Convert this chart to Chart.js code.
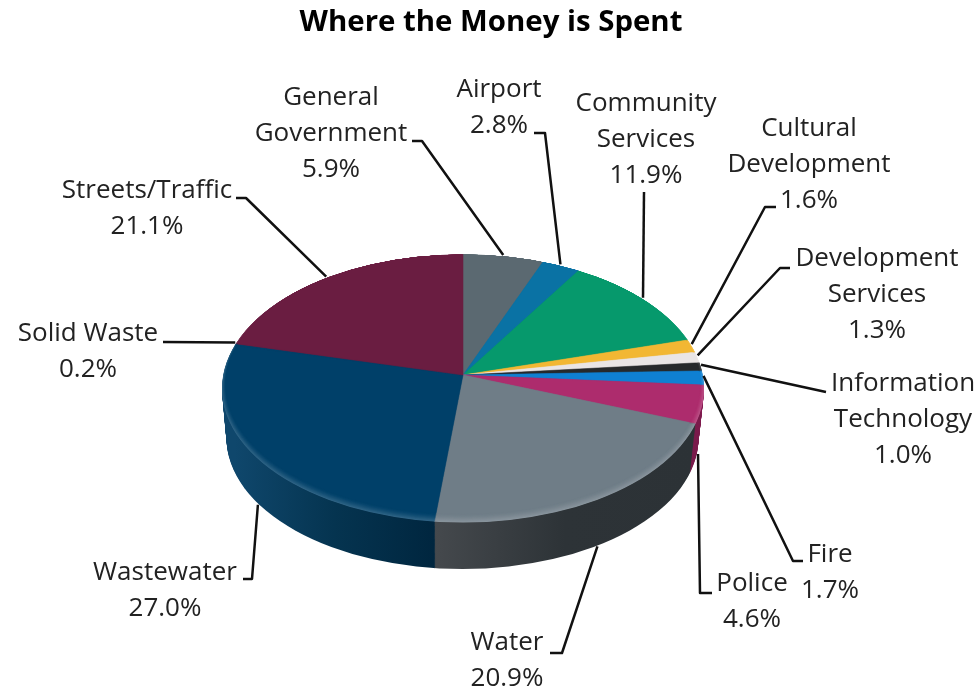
<!DOCTYPE html>
<html><head><meta charset="utf-8">
<style>html,body{margin:0;padding:0;background:#fff}canvas{display:block}</style>
<script src="https://cdn.jsdelivr.net/npm/chart.js@4"></script></head>
<body><canvas id="c" width="979" height="690" style="width:979px;height:690px"></canvas>
<script>
const chartTitle = 'Where the Money is Spent';
const categories = ['General Government','Airport','Community Services','Cultural Development','Development Services','Information Technology','Fire','Police','Water','Wastewater','Solid Waste','Streets/Traffic'];
const values = [5.9,2.8,11.9,1.6,1.3,1.0,1.7,4.6,20.9,27.0,0.2,21.1];
const topColors = ['#5b6971','#0a72a4','#06996c','#f2b733','#e9e5e5','#26292b','#0f80d2','#ad2c6d','#6f7d87','#004069','#004069','#6a1d41'];
const wallColors = [
 ['#3e474d','#3e474d','#3e474d'],['#064f72','#064f72','#064f72'],['#046a4a','#046a4a','#046a4a'],
 ['#a67d22','#a67d22','#a67d22'],['#a09d9d','#a09d9d','#a09d9d'],['#191b1d','#191b1d','#191b1d'],
 ['#0a5890','#0a5890','#0a5890'],['#8a1c55','#7a1a4b','#7a1a4b'],
 ['#2c3236','#2d3337','#45494d'],['#00263f','#053450','#0f476c'],['#23506a','#23506a','#23506a'],['#4a142d','#4a142d','#4a142d']];

/* label layout: wrapped lines, text centre x, first line y */
const labelLines = [['General','Government'],['Airport'],['Community','Services'],['Cultural','Development'],['Development','Services'],['Information','Technology'],['Fire'],['Police'],['Water'],['Wastewater'],['Solid Waste'],['Streets/Traffic']];
const labelX = [331,499,646,809,877,903,830,752,507,165,88,147];
const labelY = [96,88,102,127,257,382,553,582,641,571,332,189];
/* leader start + elbow; end comes from the slice's mid angle */
const leaderPath = [[[412,141],[422,141]],[[534,133],[545,133]],[[644,192]],[[776,207],[765,207]],[[790,268],[780,268]],[[826,392]],[[803,561],[793,561]],[[712,593],[700,593]],[[550,653],[562,653]],[[243,579],[252,579]],[[163,342]],[[236,198],[246,198]]];
const leaderOnWall = [0,0,0,0,0,0,0,1,1,1,0,0];

/* view of the pie: apex, outline ellipse, wall depth, perspective strength */
const G = {cx:463, cy:375, ellCy:388.5, rx:241, ry:134, depth:50, botCx:462.5, botRx:236, botRy:131, persp:0.101, Ax:240, A:132, botA:130, SX:275, SY:170};

function mix(hex, t, target){
  const n=parseInt(hex.slice(1),16), r=n>>16, g=(n>>8)&255, b=n&255;
  const f=c=>Math.round(c+(target-c)*t);
  return `rgb(${f(r)},${f(g)},${f(b)})`;
}
/* chart angle -> drawing angle, so radial edges follow the perspective */
function warp(a){
  const th=a+Math.PI/2;
  if(th<1e-6) return a;
  let p=Math.atan2(G.Ax*Math.sin(th)/G.SX, G.A*Math.cos(th)/G.SY);
  if(p<0) p+=2*Math.PI;
  return p-Math.PI/2;
}
function rimX(a){
  const th=a+Math.PI/2;
  return G.Ax*Math.sin(th)/(1+G.persp*Math.cos(th));
}
function drawLayer(ctx, meta, ell, apexX, apexY, fill){
  ctx.save();
  ctx.beginPath(); ctx.ellipse(ell.x,ell.y,ell.rx,ell.ry,0,0,Math.PI*2); ctx.clip();
  ctx.translate(apexX,apexY);
  meta.data.forEach((arc,i)=>{
    const R=arc.outerRadius;
    const a0=arc.startAngle,a1=arc.endAngle,cf=arc.circumference;
    const color=fill(i,arc,R);
    arc.startAngle=warp(a0); arc.endAngle=warp(a1); arc.circumference=arc.endAngle-arc.startAngle;
    ctx.save();
    ctx.scale(G.SX/R,G.SY/R);
    ctx.translate(-arc.x,-arc.y);
    const orig=arc.options;
    arc.options=Object.create(orig,{backgroundColor:{value:color},borderColor:{value:color},borderWidth:{value:0.8}});
    arc.draw(ctx);
    arc.options=orig;
    ctx.restore();
    arc.startAngle=a0; arc.endAngle=a1; arc.circumference=cf;
  });
  ctx.restore();
}
const pie3d = {
  id:'pie3d',
  beforeDatasetsDraw(chart){
    const ctx=chart.ctx, meta=chart.getDatasetMeta(0);
    const n=G.depth;
    for(let k=n;k>=1;k--){
      const t=k/n, cx=G.cx+(G.botCx-G.cx)*t;
      const ell={x:cx,y:G.ellCy+49.5*t,rx:G.rx+(G.botRx-G.rx)*t,ry:G.ry+(G.botRy-G.ry)*t};
      drawLayer(ctx,meta,ell,cx,G.cy+G.depth*t,(i,arc,R)=>{
        const x0=arc.x+rimX(arc.startAngle)*R/G.SX, x1=arc.x+rimX(arc.endAngle)*R/G.SX;
        const g=ctx.createLinearGradient(x0,0,Math.abs(x1-x0)<1?x0+1:x1,0);
        g.addColorStop(0,wallColors[i][0]);g.addColorStop(.5,wallColors[i][1]);g.addColorStop(1,wallColors[i][2]);
        return g;
      });
    }
    /* top face: bevel crescent towards the front rim, fading inward */
    const steps=16;
    for(let k=0;k<=steps;k++){
      const u=k/steps, d=4.2*u, a=0.19*Math.pow(1-u,1.5);
      const ell={x:G.cx,y:G.ellCy-d,rx:G.rx-4*u,ry:G.ry-d};
      drawLayer(ctx,meta,ell,G.cx,G.cy,i=>mix(topColors[i],a,255));
    }
    return false;
  },
  afterDraw(chart){
    const ctx=chart.ctx, meta=chart.getDatasetMeta(0);
    ctx.save();
    ctx.strokeStyle='#111'; ctx.lineWidth=2.5; ctx.lineJoin='round';
    meta.data.forEach((arc,i)=>{
      const th=(arc.startAngle+arc.endAngle)/2+Math.PI/2, x=Math.sin(th), y=Math.cos(th), w=1+G.persp*y;
      let ex,ey;
      if(leaderOnWall[i]){ ex=G.botCx+G.botRx*x/w; ey=G.cy+G.depth-G.botA*y/w; }
      else { ex=G.cx+G.Ax*x/w; ey=G.cy-2-G.A*y/w; }
      ctx.beginPath();
      leaderPath[i].forEach((p,j)=>j?ctx.lineTo(p[0],p[1]):ctx.moveTo(p[0],p[1]));
      ctx.lineTo(ex,ey); ctx.stroke();
    });
    ctx.fillStyle='#222'; ctx.font='26px "Open Sans"'; ctx.textAlign='center'; ctx.textBaseline='middle';
    categories.forEach((_,i)=>{
      const lines=[...labelLines[i], values[i].toFixed(1)+'%'];
      lines.forEach((t,j)=>ctx.fillText(t,labelX[i],labelY[i]+1.5+j*36.2));
    });
    ctx.restore();
  }
};
new Chart(document.getElementById('c'),{
  type:'pie',
  data:{labels:categories,datasets:[{data:values,backgroundColor:topColors,borderWidth:0}]},
  options:{
    responsive:false,animation:false,events:[],
    rotation:0,
    layout:{padding:{left:3}},
    plugins:{
      legend:{display:false},tooltip:{enabled:false},
      title:{display:true,text:chartTitle,color:'#000',font:{family:'"Open Sans"',size:29.4,weight:'bold'},padding:{top:5,bottom:0}}
    }
  },
  plugins:[pie3d]
});
</script></body></html>
